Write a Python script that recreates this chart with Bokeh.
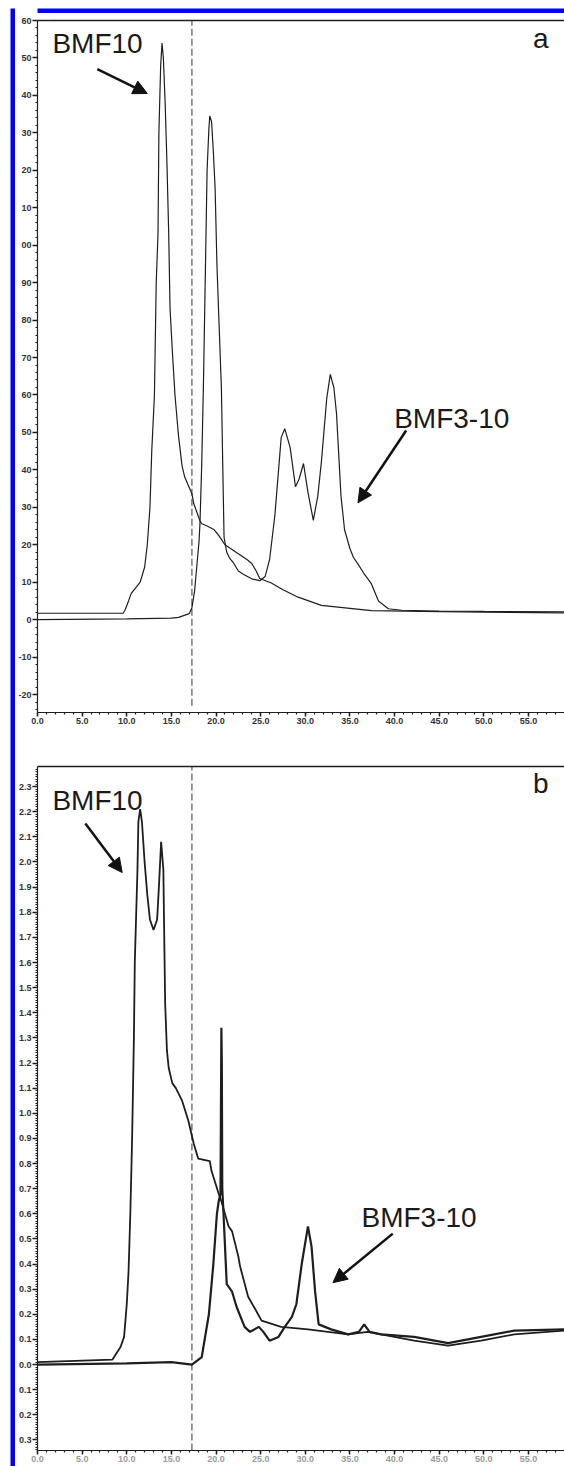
from bokeh.plotting import figure
from bokeh.models import FixedTicker, LinearAxis, Label, Arrow, NormalHead, Range1d
from bokeh.layouts import row, column
from bokeh.embed import file_html
from bokeh.resources import INLINE

# ---------------- data ----------------
# Panel a (mAU)
a_bmf10_t = [0, 9.6, 9.8, 10.2, 10.5, 11.0, 11.5, 12.0, 12.3, 12.6, 12.8, 13.1, 13.3, 13.5, 13.6,
             13.8, 13.95, 14.1, 14.3, 14.5, 14.7, 14.85, 15.1, 15.4, 15.8, 16.2, 16.5, 17.3, 17.5,
             18.2, 18.4, 19.0, 19.8, 20.3, 21.0, 22.5, 23.5, 24.0, 24.5, 24.9, 26.2, 27.5, 29.2,
             31.8, 35.0, 37.4, 43.0, 50.0, 59.0]
a_bmf10_v = [1.7, 1.7, 2.5, 5, 7, 8.5, 10, 14, 20, 30, 45, 60, 90, 103, 130,
             148, 154, 150, 138, 122, 103, 83, 72, 60, 49, 41, 38, 33.6, 31,
             26.4, 25.6, 25, 24, 22.5, 20, 17.6, 16, 15, 13, 11, 9.8, 8, 6,
             3.8, 3.0, 2.4, 2.2, 2.0, 1.8]
a_bmf310_t = [0, 10, 15, 15.8, 17.0, 17.3, 17.6, 18.1, 18.2, 18.4, 18.6, 19.0, 19.2, 19.3, 19.5,
              19.7, 19.9, 20.1, 20.4, 20.6, 20.8, 20.9, 21.2, 21.5, 22.0, 22.5, 23.0, 24.0, 24.9,
              25.5, 26.0, 26.6, 27.3, 27.7, 28.3, 28.9, 29.3, 29.8, 30.3, 30.9, 31.4, 31.8, 32.4,
              32.8, 33.2, 33.5, 34.0, 34.4, 35.0, 35.4, 36.0, 36.6, 37.4, 38.2, 39.3, 40.8, 45.0,
              50.0, 59.0]
a_bmf310_v = [0, 0.2, 0.4, 0.6, 1.6, 3.2, 7.7, 21, 25.6, 41.6, 64, 120, 131, 134.5, 133,
              125, 115, 95, 75, 62, 35, 22, 18, 16.5, 15, 13, 12.2, 10.9, 10.4,
              11.5, 16, 28, 48.6, 51, 46, 35.5, 37.5, 41.7, 34, 26.5, 33, 42, 59,
              65.5, 62, 55, 33, 24, 19, 16.6, 14.5, 12.2, 9.6, 5, 2.9, 2.5, 2.3,
              2.2, 2.1]

# Panel b (mAU)
b_bmf10_t = [0, 8.4, 9.3, 9.7, 10.0, 10.2, 10.4, 10.6, 10.8, 10.9, 11.2, 11.3, 11.5, 11.7, 12.0,
             12.3, 12.6, 13.0, 13.4, 13.6, 13.85, 14.1, 14.2, 14.3, 14.5, 14.7, 15.1, 15.5, 16.2,
             16.9, 17.5, 18.0, 19.3, 19.5, 20.3, 20.6, 21.4, 21.8, 22.5, 22.7, 23.6, 24.4, 25.1,
             27.3, 30.3, 34.8, 37.0, 38.5, 42.2, 46.0, 49.7, 53.4, 59.0]
b_bmf10_v = [0.01, 0.02, 0.07, 0.11, 0.24, 0.37, 0.6, 0.9, 1.3, 1.6, 1.97, 2.16, 2.21, 2.16, 2.0,
             1.87, 1.77, 1.73, 1.77, 1.9, 2.08, 1.97, 1.7, 1.44, 1.25, 1.18, 1.12, 1.10, 1.05,
             0.97, 0.88, 0.82, 0.81, 0.77, 0.68, 0.65, 0.55, 0.53, 0.43, 0.39, 0.27, 0.22, 0.175,
             0.15, 0.14, 0.12, 0.13, 0.12, 0.095, 0.075, 0.095, 0.12, 0.135]
b_bmf310_t = [0, 10, 15, 17.3, 18.4, 19.2, 19.7, 20.1, 20.3, 20.5, 20.6, 20.65, 20.7, 20.8, 21.2,
              21.8, 22.3, 23.2, 23.8, 24.8, 25.3, 26.0, 27.0, 27.7, 28.5, 29.0, 29.6, 30.3, 30.7,
              31.1, 31.5, 32.9, 34.8, 36.0, 36.6, 37.2, 38.5, 42.2, 46.0, 49.7, 53.4, 59.0]
b_bmf310_v = [0.0, 0.005, 0.01, 0.0, 0.03, 0.2, 0.4, 0.6, 0.65, 0.68, 1.34, 1.2, 0.7, 0.63, 0.32,
              0.29, 0.23, 0.15, 0.13, 0.15, 0.13, 0.095, 0.11, 0.15, 0.19, 0.24, 0.4, 0.55, 0.47,
              0.29, 0.16, 0.14, 0.12, 0.13, 0.16, 0.13, 0.12, 0.11, 0.085, 0.11, 0.135, 0.14]

fraction_cut = 17.3  # dashed vertical line (min)

x_ticks = [0, 5, 10, 15, 20, 25, 30, 35, 40, 45, 50, 55]
x_tick_labels = ["0.0", "5.0", "10.0", "15.0", "20.0", "25.0", "30.0", "35.0", "40.0", "45.0", "50.0", "55.0"]
a_y_ticks = [-20, -10, 0, 10, 20, 30, 40, 50, 60, 70, 80, 90, 100, 110, 120, 130, 140, 150, 160]
a_y_labels = ["-20", "-10", "0", "10", "20", "30", "40", "50", "60", "70", "80", "90", "00", "10",
              "20", "30", "40", "50", "60"]
b_y_ticks = [round(-0.3 + 0.1 * k, 1) for k in range(27)]
b_y_labels = ["0.3", "0.2", "0.1", "0.0", "0.1", "0.2", "0.3", "0.4", "0.5", "0.6", "0.7", "0.8",
              "0.9", "1.0", "1.1", "1.2", "1.3", "1.4", "1.5", "1.6", "1.7", "1.8", "1.9", "2.0",
              "2.1", "2.2", "2.3"]

FONT = "Liberation Sans"
INK = "#1e1e1e"
TICK_TXT = "#333333"


def style_axes(p, y_ticks, y_labels, y_minor, x_label_color=TICK_TXT):
    xa = p.xaxis[0]
    xa.ticker = FixedTicker(ticks=x_ticks, minor_ticks=list(range(0, 60)))
    xa.major_label_overrides = {t: s for t, s in zip(x_ticks, x_tick_labels)}
    ya = p.yaxis[0]
    ya.ticker = FixedTicker(ticks=y_ticks, minor_ticks=y_minor)
    ya.major_label_overrides = {t: s for t, s in zip(y_ticks, y_labels)}
    for ax in (xa, ya):
        ax.axis_line_color = INK
        ax.axis_line_width = 1.2
        ax.major_tick_line_color = INK
        ax.minor_tick_line_color = INK
        ax.major_tick_line_width = 1.5
        ax.minor_tick_line_width = 1.2
        ax.major_tick_in = 0
        ax.major_tick_out = 5
        ax.minor_tick_in = 0
        ax.minor_tick_out = 2
        ax.major_label_text_font = FONT
        ax.major_label_text_font_size = "9px"
        ax.major_label_text_font_style = "bold"
        ax.major_label_text_color = TICK_TXT
        ax.major_label_standoff = 1
    xa.major_tick_out = 4
    xa.major_label_text_color = x_label_color
    top = LinearAxis(ticker=FixedTicker(ticks=[]), axis_line_color=INK, axis_line_width=1.5,
                     major_tick_line_color=None, minor_tick_line_color=None,
                     major_label_standoff=0)
    p.add_layout(top, "above")
    p.xgrid.visible = False
    p.ygrid.visible = False


def base_fig(height, y0, y1, border_top, border_bottom):
    p = figure(width=549, height=height, x_range=Range1d(0, 59.04), y_range=Range1d(y0, y1),
               toolbar_location=None, output_backend="svg", min_border_left=20,
               min_border_right=0, min_border_top=border_top, min_border_bottom=border_bottom,
               outline_line_color=None, background_fill_color="white", border_fill_color="white")
    return p


def big_label(p, x, y, text):
    p.add_layout(Label(x=x, y=y, text=text, text_font=FONT, text_font_size="28px",
                       text_color="#1a1a1a", text_baseline="alphabetic", text_align="left"))


def arrow(p, xs, ys, xe, ye):
    p.add_layout(Arrow(end=NormalHead(size=14, fill_color="#111", line_color="#111"),
                       x_start=xs, y_start=ys, x_end=xe, y_end=ye,
                       line_width=2.5, line_color="#111"))


# ---------------- panel a ----------------
pa = base_fig(727, -24.8, 160, 7, 28)
style_axes(pa, a_y_ticks, a_y_labels, list(range(-24, 161, 2)))
pa.segment(x0=[fraction_cut], y0=[-23], x1=[fraction_cut], y1=[160],
           line_color="#555555", line_width=1.2, line_dash="7 3")
pa.line(a_bmf10_t, a_bmf10_v, line_color=INK, line_width=1.2)
pa.line(a_bmf310_t, a_bmf310_v, line_color=INK, line_width=1.2)
big_label(pa, 1.67, 153.8, "BMF10")
big_label(pa, 39.96, 53.7, "BMF3-10")
big_label(pa, 55.5, 155.2, "a")
arrow(pa, 6.7, 147, 12.3, 140.5)
arrow(pa, 41.3, 50.5, 35.9, 31.2)
pa.add_layout(Label(x=-0.56, y=160.8, text="mAU", text_font=FONT, text_font_size="9px",
                    text_color=TICK_TXT, text_baseline="alphabetic"))
pa.add_layout(Label(x=58.15, y=-26.4, text="m", text_font=FONT, text_font_size="9px",
                    text_font_style="bold", text_color=TICK_TXT, text_baseline="top"))

# ---------------- panel b ----------------
pb = base_fig(726, -0.342, 2.38, 26, 16)
style_axes(pb, b_y_ticks, b_y_labels, [round(-0.34 + 0.01 * k, 2) for k in range(272)],
           x_label_color="#9a9a9a")
pb.segment(x0=[fraction_cut], y0=[-0.342], x1=[fraction_cut], y1=[2.38],
           line_color="#555555", line_width=1.2, line_dash="7 3")
pb.line(b_bmf10_t, b_bmf10_v, line_color=INK, line_width=1.8)
pb.line(b_bmf310_t, b_bmf310_v, line_color=INK, line_width=2.2)
big_label(pb, 1.67, 2.245, "BMF10")
big_label(pb, 36.3, 0.585, "BMF3-10")
big_label(pb, 55.5, 2.312, "b")
arrow(pb, 5.36, 2.153, 9.49, 1.958)
arrow(pb, 39.8, 0.521, 33.1, 0.326)
pb.add_layout(Label(x=-0.67, y=2.392, text="mAU", text_font=FONT, text_font_size="9px",
                    text_color=TICK_TXT, text_baseline="alphabetic"))

# ---------------- blue frame pieces ----------------
bar = figure(width=15, height=1466, x_axis_type=None, y_axis_type=None, toolbar_location=None,
             output_backend="svg", min_border=0, min_border_left=10, min_border_top=8,
             outline_line_color=None, background_fill_color="#0000ff", border_fill_color="white")
topbar = figure(width=549, height=13, x_axis_type=None, y_axis_type=None, toolbar_location=None,
                output_backend="svg", min_border=0, min_border_top=8, outline_line_color=None,
                background_fill_color="#0000ff", border_fill_color="white")

p = row(bar, column(topbar, pa, pb))
open("out.html", "w").write(file_html(p, INLINE))
